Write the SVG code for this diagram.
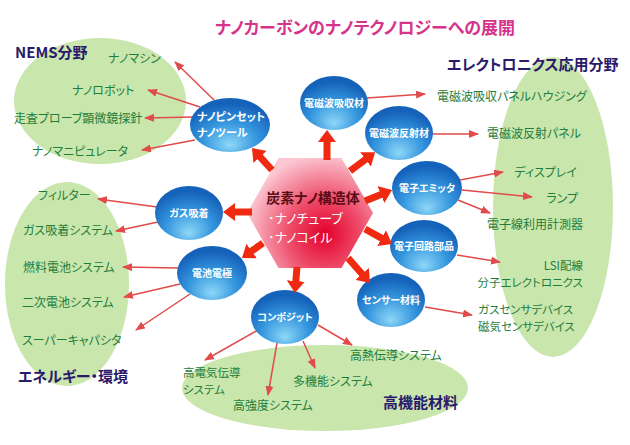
<svg xmlns="http://www.w3.org/2000/svg" width="630" height="445" viewBox="0 0 630 445">
<defs>
<radialGradient id="blue" cx="0.5" cy="0.72" r="0.62" fx="0.5" fy="0.88">
 <stop offset="0" stop-color="#8ed8f8"/>
 <stop offset="0.55" stop-color="#3596de"/>
 <stop offset="1" stop-color="#1562ba"/>
</radialGradient>
<radialGradient id="hexg" gradientUnits="userSpaceOnUse" cx="325" cy="234" r="80">
 <stop offset="0" stop-color="#e3002a"/>
 <stop offset="0.45" stop-color="#ee4c6a"/>
 <stop offset="1" stop-color="#fbc8d2"/>
</radialGradient>
<marker id="thin" viewBox="0 0 10 8" markerWidth="10" markerHeight="8" refX="9" refY="4" orient="auto" markerUnits="userSpaceOnUse"><path d="M0,0 L10,4 L0,8 z" fill="#e14b4b"/></marker>
<marker id="thick" viewBox="0 0 12 18" markerWidth="12" markerHeight="18" refX="2" refY="9" orient="auto" markerUnits="userSpaceOnUse"><path d="M0,0 L12,9 L0,18 z" fill="#f02a10"/></marker>
<style>
text{font-family:"Noto Sans CJK JP","Noto Sans",sans-serif;font-feature-settings:"palt" 1}
.g{fill:#1f7d3c;font-size:12px}
.g2{fill:#1f7d3c;font-size:11.5px}
.h{fill:#2a1a6c;font-size:15px;font-weight:bold}
.nt{fill:#fff;font-size:10px;font-weight:bold;text-anchor:middle}
.area{fill:#c9e6ad}
.node{fill:url(#blue)}
.ln{stroke:#e14b4b;stroke-width:1.5;fill:none;marker-end:url(#thin)}
.tk{stroke:#f02a10;stroke-width:7;fill:none;marker-end:url(#thick)}
.e{text-anchor:end}
.w{fill:#fff;font-size:13px}
</style>
</defs>
<rect width="630" height="445" fill="#fff"/>
<text id="title" x="365" y="34" text-anchor="middle" style="fill:#d6338a;font-size:17px;font-weight:bold">ナノカーボンのナノテクノロジーへの展開</text>

<g id="area-nems"><ellipse class="area" cx="100" cy="101" rx="86" ry="63"/><text class="h" x="15" y="58">NEMS分野</text></g>
<g id="area-energy"><ellipse class="area" cx="67" cy="284" rx="62" ry="102"/><text class="h" x="18" y="382">エネルギー・環境</text></g>
<g id="area-elec"><ellipse class="area" cx="553" cy="207" rx="60" ry="150"/><text class="h" x="447" y="70">エレクトロニクス応用分野</text></g>
<g id="area-mat"><ellipse class="area" cx="325" cy="388" rx="143" ry="43"/><text class="h" x="383" y="408">高機能材料</text></g>

<g id="connectors">
<line class="ln" x1="214" y1="100" x2="175" y2="62"/>
<line class="ln" x1="200" y1="107" x2="148" y2="90"/>
<line class="ln" x1="195" y1="117" x2="145" y2="118"/>
<line class="ln" x1="195" y1="140" x2="142" y2="150"/>
<line class="ln" x1="367" y1="98" x2="425" y2="94"/>
<line class="ln" x1="432" y1="134" x2="478" y2="134"/>
<line class="ln" x1="460" y1="180" x2="503" y2="172"/>
<line class="ln" x1="462" y1="190" x2="532" y2="197"/>
<line class="ln" x1="458" y1="200" x2="490" y2="213"/>
<line class="ln" x1="457" y1="255" x2="500" y2="262"/>
<line class="ln" x1="425" y1="307" x2="472" y2="315"/>
<line class="ln" x1="258" y1="330" x2="205" y2="360"/>
<line class="ln" x1="277" y1="343" x2="268" y2="395"/>
<line class="ln" x1="303" y1="341" x2="315" y2="368"/>
<line class="ln" x1="318" y1="325" x2="352" y2="345"/>
<line class="ln" x1="157" y1="207" x2="98" y2="199"/>
<line class="ln" x1="158" y1="222" x2="116" y2="231"/>
<line class="ln" x1="178" y1="268" x2="123" y2="267"/>
<line class="ln" x1="180" y1="284" x2="124" y2="297"/>
<line class="ln" x1="190" y1="294" x2="136" y2="330"/>
</g>

<g id="l-nanomachine"><text class="g" x="108" y="63">ナノマシン</text></g>
<g id="l-nanorobot"><text class="g" x="72" y="95">ナノロボット</text></g>
<g id="l-probe"><text class="g" x="14" y="123">走査プローブ顕微鏡探針</text></g>
<g id="l-manip"><text class="g" x="32" y="156">ナノマニピュレータ</text></g>

<g id="l-emabs"><text class="g" x="437" y="101">電磁波吸収パネルハウジング</text></g>
<g id="l-emref"><text class="g e" x="581" y="138">電磁波反射パネル</text></g>
<g id="l-display"><text class="g e" x="577" y="177">ディスプレイ</text></g>
<g id="l-lamp"><text class="g e" x="578" y="203">ランプ</text></g>
<g id="l-ebeam"><text class="g e" x="583" y="229">電子線利用計測器</text></g>
<g id="l-lsi"><text class="g2 e" x="583" y="270">LSI配線</text><text class="g2 e" x="583" y="287">分子エレクトロニクス</text></g>
<g id="l-sensor"><text class="g2" x="478" y="314">ガスセンサデバイス</text><text class="g2" x="478" y="331">磁気センサデバイス</text></g>

<g id="l-filter"><text class="g" x="38" y="200">フィルター</text></g>
<g id="l-gasads"><text class="g" x="23" y="235">ガス吸着システム</text></g>
<g id="l-fuel"><text class="g" x="23" y="272">燃料電池システム</text></g>
<g id="l-second"><text class="g" x="22" y="307">二次電池システム</text></g>
<g id="l-supercap"><text class="g" x="22" y="345">スーパーキャパシタ</text></g>

<g id="l-elecond"><text class="g2" x="183" y="377">高電気伝導</text><text class="g2" x="183" y="394">システム</text></g>
<g id="l-strength"><text class="g" x="233" y="410">高強度システム</text></g>
<g id="l-multi"><text class="g" x="293" y="386">多機能システム</text></g>
<g id="l-thermal"><text class="g" x="350" y="360">高熱伝導システム</text></g>

<g id="n-tweezers"><ellipse class="node" cx="230" cy="125" rx="40" ry="27"/><text class="nt" x="197" y="121" style="text-anchor:start;font-size:11px">ナノピンセット</text><text class="nt" x="197" y="137" style="text-anchor:start;font-size:11px">ナノツール</text></g>
<g id="n-emabs"><ellipse class="node" cx="334" cy="103" rx="34" ry="27"/><text class="nt" x="334" y="107">電磁波吸収材</text></g>
<g id="n-emref"><ellipse class="node" cx="399" cy="133" rx="34" ry="27"/><text class="nt" x="399" y="137">電磁波反射材</text></g>
<g id="n-emitter"><ellipse class="node" cx="427" cy="188" rx="35" ry="27"/><text class="nt" x="427" y="192">電子エミッタ</text></g>
<g id="n-circuit"><ellipse class="node" cx="424" cy="246" rx="34" ry="26"/><text class="nt" x="424" y="250">電子回路部品</text></g>
<g id="n-sensor"><ellipse class="node" cx="391" cy="300" rx="34" ry="27"/><text class="nt" x="391" y="304">センサー材料</text></g>
<g id="n-composite"><ellipse class="node" cx="285" cy="317" rx="34" ry="27"/><text class="nt" x="285" y="321">コンポジット</text></g>
<g id="n-battery"><ellipse class="node" cx="212" cy="273" rx="35" ry="27"/><text class="nt" x="212" y="277">電池電極</text></g>
<g id="n-gas"><ellipse class="node" cx="189" cy="213" rx="34" ry="27"/><text class="nt" x="189" y="217">ガス吸着</text></g>

<g id="n-center">
<polygon points="373,213 341.5,158 278.5,158 247,213 278.5,268 341.5,268" fill="url(#hexg)"/>
<text x="313" y="203" text-anchor="middle" style="fill:#5a0c16;font-size:14px;font-weight:bold">炭素ナノ構造体</text>
<text class="w" x="268" y="223">･ナノチューブ</text>
<text class="w" x="268" y="242">･ナノコイル</text>
</g>

<g id="thick-connectors">
<line class="tk" x1="272" y1="170" x2="258.7" y2="155.4"/>
<line class="tk" x1="327" y1="160" x2="327" y2="140"/>
<line class="tk" x1="350" y1="171" x2="367.1" y2="158.2"/>
<line class="tk" x1="365" y1="201" x2="382.8" y2="193.8"/>
<line class="tk" x1="365" y1="229" x2="383.3" y2="239.1"/>
<line class="tk" x1="348" y1="258" x2="363.4" y2="275.5"/>
<line class="tk" x1="297" y1="267" x2="295.7" y2="283"/>
<line class="tk" x1="263" y1="243" x2="250.1" y2="252.2"/>
<line class="tk" x1="252" y1="212" x2="233" y2="212"/>
</g>
</svg>
